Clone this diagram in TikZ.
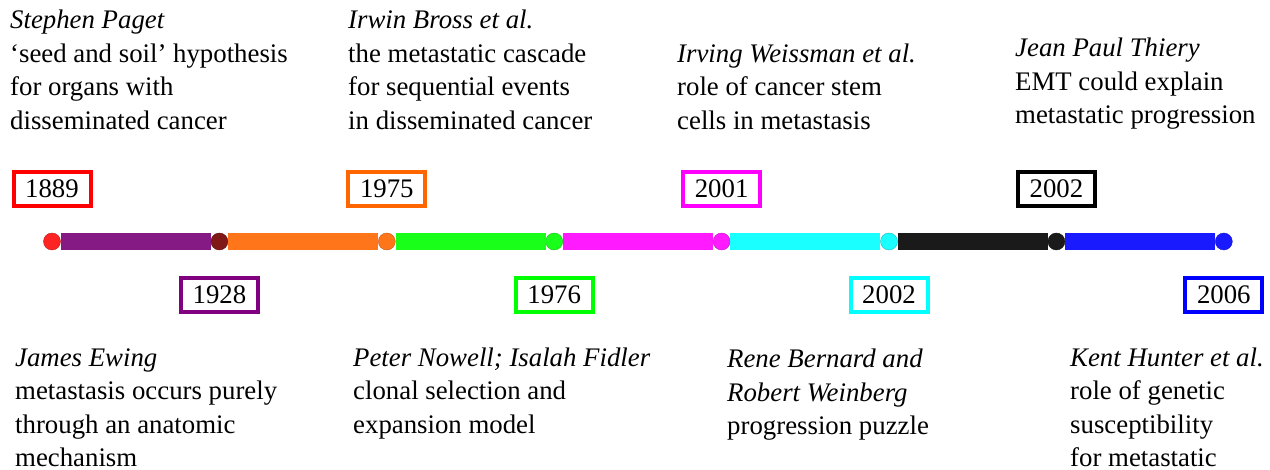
\documentclass[tikz,border=0pt]{standalone}
\usepackage{fontspec}
\setmainfont{Liberation Serif}
\usetikzlibrary{positioning}
\definecolor{cRed}{RGB}{255,36,36}
\definecolor{cMaroon}{RGB}{128,24,24}
\definecolor{cPurple}{RGB}{133,26,133}
\definecolor{cOrange}{RGB}{255,117,26}
\definecolor{cGreen}{RGB}{26,255,26}
\definecolor{cMagenta}{RGB}{255,26,255}
\definecolor{cCyan}{RGB}{26,255,255}
\definecolor{cBlack}{RGB}{26,26,26}
\definecolor{cBlue}{RGB}{26,26,255}
\definecolor{bRed}{RGB}{255,0,0}
\definecolor{bPurple}{RGB}{128,0,128}
\definecolor{bOrange}{RGB}{255,102,0}
\definecolor{bGreen}{RGB}{0,255,0}
\definecolor{bMagenta}{RGB}{255,0,255}
\definecolor{bCyan}{RGB}{0,255,255}
\definecolor{bBlue}{RGB}{0,0,255}

\begin{document}
\begin{tikzpicture}[x=1pt ,y=-1pt ,on grid ,node distance =167.4pt ,
font=\fontsize{26.8}{33.5}\selectfont ,
dot/.style ={ circle ,fill=#1 ,draw=#1!75!black ,line width=0.4pt ,
minimum size=17pt ,inner sep=0pt},
yearbox/.style ={ draw=#1 ,line width=4pt ,fill=white ,
minimum width=77pt ,minimum height=34pt ,inner sep=0pt},
bar/.style ={ draw=#1 ,line width=17pt ,line cap=butt},
info/.style ={ align=left ,anchor=base west ,inner sep=0pt}]
\useasboundingbox (0,0) rectangle (1270,470);
\node[dot=cRed] (D1889) at (52,241.5) {};
\node[dot=cMaroon] (D1928) [right = of D1889] {};
\node[dot=cOrange] (D1975) [right = of D1928] {};
\node[dot=cGreen] (D1976) [right = of D1975] {};
\node[dot=cMagenta] (D2001) [right = of D1976] {};
\node[dot=cCyan] (D2002a) [right = of D2001] {};
\node[dot=cBlack] (D2002b) [right = of D2002a] {};
\node[dot=cBlue] (D2006) [right = of D2002b] {};
\draw[bar=cPurple] (D1889) -- (D1928);
\draw[bar=cOrange] (D1928) -- (D1975);
\draw[bar=cGreen] (D1975) -- (D1976);
\draw[bar=cMagenta] (D1976) -- (D2001);
\draw[bar=cCyan] (D2001) -- (D2002a);
\draw[bar=cBlack] (D2002a) -- (D2002b);
\draw[bar=cBlue] (D2002b) -- (D2006);
\node[yearbox=bRed] (Y1889) [above = 52.5pt of D1889] {1889};
\node[yearbox=bOrange] (Y1975) [above = 52.5pt of D1975] {1975};
\node[yearbox=bMagenta] (Y2001) [above = 52.5pt of D2001] {2001};
\node[yearbox=black] (Y2002b) [above = 52.5pt of D2002b] {2002};
\node[yearbox=bPurple] (Y1928) [below = 53.5pt of D1928] {1928};
\node[yearbox=bGreen] (Y1976) [below = 53.5pt of D1976] {1976};
\node[yearbox=bCyan] (Y2002a) [below = 53.5pt of D2002a] {2002};
\node[yearbox=bBlue] (Y2006) [below = 53.5pt of D2006] {2006};
\node[info] (T1889) at (10,129.5) {\itshape Stephen Paget\\‘seed and soil’ hypothesis\\for organs with\\disseminated cancer};
\node[info] (T1975) at (348,129.5) {\itshape Irwin Bross et al.\\the metastatic cascade\\for sequential events\\in disseminated cancer};
\node[info] (T2001) at (677,129.5) {\itshape Irving Weissman et al.\\role of cancer stem\\cells in metastasis};
\node[info] (T2002b) at (1015,124) {\itshape Jean Paul Thiery\\EMT could explain\\metastatic progression};
\node[info] (T1928) at (15,466.5) {\itshape James Ewing\\metastasis occurs purely\\through an anatomic\\mechanism};
\node[info] (T1976) at (353,433) {\itshape Peter Nowell; Isalah Fidler\\clonal selection and\\expansion model};
\node[info] (T2002a) at (727,435) {\itshape Rene Bernard and\\\itshape Robert Weinberg\\progression puzzle};
\node[info] (T2006) at (1070,466.5) {\itshape Kent Hunter et al.\\role of genetic\\susceptibility\\for metastatic};
\end{tikzpicture}
\end{document}
